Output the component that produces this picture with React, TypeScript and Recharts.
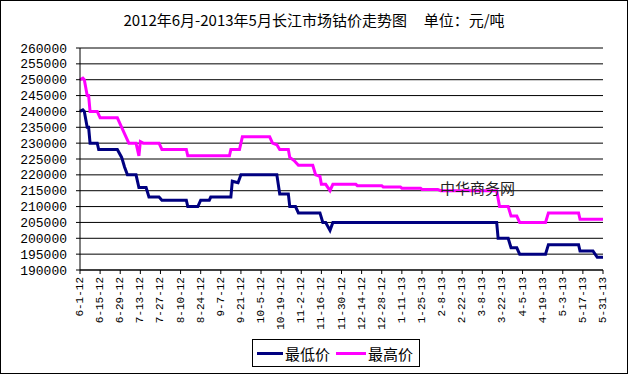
import { LineChart, Line, XAxis, YAxis, CartesianGrid } from "recharts";

// x = days since 2012-06-01
const tickLabels = [
  "6-1-12", "6-15-12", "6-29-12", "7-13-12", "7-27-12", "8-10-12", "8-24-12",
  "9-7-12", "9-21-12", "10-5-12", "10-19-12", "11-2-12", "11-16-12", "11-30-12",
  "12-14-12", "12-28-12", "1-11-13", "1-25-13", "2-8-13", "2-22-13", "3-8-13",
  "3-22-13", "4-5-13", "4-19-13", "5-3-13", "5-17-13", "5-31-13",
];

const yTicks = [
  190000, 195000, 200000, 205000, 210000, 215000, 220000, 225000,
  230000, 235000, 240000, 245000, 250000, 255000, 260000,
];

const lowDays = [
  0, 2, 3, 5, 6, 7, 12, 13, 26, 29, 31, 33, 39, 41, 46, 48, 55, 57, 74, 75,
  82, 84, 90, 91, 105, 106, 110, 112, 137, 139, 145, 146, 150, 152, 167, 169,
  171, 174, 176, 290, 291, 298, 300, 304, 306, 324, 326, 347, 348, 357, 360, 364,
];
const lowPrices = [
  240000, 240500, 240000, 235000, 235000, 230000, 230000, 228000, 228000, 225500,
  222500, 220000, 220000, 216000, 216000, 213000, 213000, 212000, 212000, 210000,
  210000, 212000, 212000, 213000, 213000, 218000, 217500, 220000, 220000, 214000,
  214000, 210000, 210000, 208000, 208000, 205000, 205000, 202500, 205000, 205000,
  200000, 200000, 197000, 197000, 195000, 195000, 198000, 198000, 196000, 196000,
  194000, 194000,
];

const highDays = [
  0, 2, 3, 5, 6, 7, 12, 14, 26, 29, 32, 34, 39, 41, 42, 44, 55, 57, 74, 75,
  104, 105, 111, 113, 132, 134, 137, 139, 145, 146, 149, 152, 162, 164, 167, 168,
  171, 174, 176, 192, 193, 210, 211, 223, 224, 237, 238, 249, 251, 290, 292, 298,
  300, 304, 306, 324, 326, 347, 348, 364,
];
const highPrices = [
  250000, 250500, 250000, 245000, 245000, 240000, 240000, 238000, 238000, 235000,
  232000, 230000, 230000, 226000, 230500, 230000, 230000, 228000, 228000, 226000,
  226000, 228000, 228000, 232000, 232000, 230000, 229500, 228000, 228000, 225500,
  224500, 223000, 223000, 220000, 219500, 217000, 217000, 215000, 217000, 217000,
  216600, 216600, 216200, 216200, 215800, 215800, 215400, 215400, 215000, 215000,
  210000, 210000, 207000, 207000, 205000, 205000, 208000, 208000, 206000, 206000,
];

const lowData = lowDays.map((day, i) => ({ day, value: lowPrices[i] }));
const highData = highDays.map((day, i) => ({ day, value: highPrices[i] }));
const xTicks = tickLabels.map((_, i) => i * 14);

const NAVY = "#000080";
const MAGENTA = "#FF00FF";
const axisFont = "'Liberation Mono', 'DejaVu Sans Mono', monospace";
const cjkFont = "'Noto Sans CJK SC', sans-serif";

function DateTick(props: any) {
  const { x, y, payload } = props;
  const label = tickLabels[Math.round(payload.value / 14)];
  return (
    <text
      x={x}
      y={y}
      transform={`rotate(-90, ${x}, ${y})`}
      textAnchor="end"
      dominantBaseline="central"
      fontSize={11}
      fontFamily={axisFont}
      fill="#000"
    >
      {label}
    </text>
  );
}

export default function App() {
  return (
    <div
      style={{
        position: "absolute",
        left: 0,
        top: 0,
        width: 628,
        height: 374,
        background: "#fff",
      }}
    >
      <div
        style={{
          position: "absolute",
          left: 0,
          top: 10,
          width: 628,
          textAlign: "center",
          fontFamily: cjkFont,
          fontSize: 15,
          lineHeight: "20px",
          whiteSpace: "pre",
          color: "#000",
        }}
      >
        {"2012年6月-2013年5月长江市场钴价走势图     单位：元/吨"}
      </div>
      <LineChart
        width={628}
        height={374}
        margin={{ top: 48, right: 25, left: 0, bottom: 44 }}
      >
        <CartesianGrid horizontal vertical={false} stroke="#000" strokeWidth={1} />
        <XAxis
          type="number"
          dataKey="day"
          domain={[0, 364]}
          ticks={xTicks}
          interval={0}
          height={60}
          tick={<DateTick />}
          tickSize={4}
          tickMargin={3}
          axisLine={{ stroke: "#000" }}
          tickLine={{ stroke: "#000" }}
          allowDuplicatedCategory={false}
        />
        <YAxis
          type="number"
          domain={[190000, 260000]}
          ticks={yTicks}
          interval={0}
          width={80}
          tickSize={4}
          tickMargin={9}
          axisLine={{ stroke: "#000" }}
          tickLine={{ stroke: "#000" }}
          tick={{ fontSize: 13, fontFamily: axisFont, fill: "#000" }}
        />
        <Line
          data={lowData}
          dataKey="value"
          type="linear"
          stroke={NAVY}
          strokeWidth={3}
          dot={false}
          isAnimationActive={false}
        />
        <Line
          data={highData}
          dataKey="value"
          type="linear"
          stroke={MAGENTA}
          strokeWidth={3}
          dot={false}
          isAnimationActive={false}
        />
      </LineChart>
      <div
        style={{
          position: "absolute",
          left: 440,
          top: 178,
          fontFamily: cjkFont,
          fontSize: 15,
          lineHeight: "20px",
          color: "#222",
        }}
      >
        中华商务网
      </div>
      <div
        style={{
          position: "absolute",
          left: 252,
          top: 339,
          width: 166,
          height: 26,
          border: "1px solid #000",
          display: "flex",
          alignItems: "center",
          fontFamily: cjkFont,
          fontSize: 15,
          color: "#000",
        }}
      >
        <span style={{ display: "inline-block", width: 26, height: 3, background: NAVY, marginLeft: 4, marginRight: 2 }} />
        <span>最低价</span>
        <span style={{ display: "inline-block", width: 30, height: 3, background: MAGENTA, marginLeft: 6, marginRight: 2 }} />
        <span>最高价</span>
      </div>
      <div
        style={{
          position: "absolute",
          left: 0,
          top: 0,
          width: 628,
          height: 374,
          boxSizing: "border-box",
          border: "1px solid #000",
          pointerEvents: "none",
        }}
      />
    </div>
  );
}
